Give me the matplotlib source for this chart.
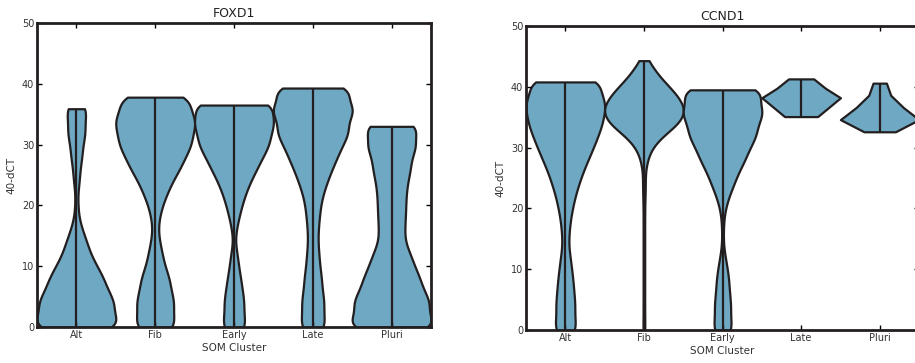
import numpy as np
import matplotlib
matplotlib.use('Agg')
import matplotlib.pyplot as plt


clusters = ['Alt', 'Fib', 'Early', 'Late', 'Pluri']

# FOXD1: 40-dCT levels and number of cells at each level, per SOM cluster
foxd1_levels = {
    'Alt': [0, 2, 4, 6, 8, 10, 12, 14, 16, 18, 20, 22, 24, 26, 28, 30, 32, 34, 35.9],
    'Fib': [0, 2, 4, 6, 8, 10, 12, 14, 16, 18, 20, 22, 24, 26, 28, 30, 32, 34, 36, 37.8],
    'Early': [0, 2, 4, 6, 8, 10, 12, 14, 16, 18, 20, 22, 24, 26, 28, 30, 32, 34, 35.5, 36.5],
    'Late': [0, 2, 4, 6, 8, 10, 12, 14, 16, 18, 20, 22, 24, 26, 28, 30, 32, 34, 36, 38.3, 39.3],
    'Pluri': [0, 2, 4, 6, 8, 10, 12, 14, 16, 18, 20, 22, 24, 26, 28, 30, 32, 33.0],
}
foxd1_counts = {
    'Alt': [127, 91, 102, 80, 71, 53, 36, 27, 15, 6, 4, 3, 8, 9, 15, 16, 25, 19, 30],
    'Fib': [61, 44, 53, 41, 39, 25, 19, 12, 7, 11, 19, 32, 46, 66, 80, 98, 99, 113, 83, 93],
    'Early': [36, 24, 28, 22, 18, 12, 9, 2, 6, 13, 21, 31, 44, 61, 76, 96, 96, 117, 5, 133],
    'Late': [37, 26, 31, 24, 23, 18, 16, 13, 14, 17, 20, 27, 38, 50, 64, 77, 97, 86, 124, 66, 83],
    'Pluri': [130, 86, 103, 80, 73, 58, 48, 33, 33, 35, 36, 37, 41, 49, 49, 71, 27, 71],
}

# CCND1
ccnd1_levels = {
    'Alt': [0, 2, 4, 6, 8, 10, 12, 14, 16, 18, 20, 22, 24, 26, 28, 30, 32, 34, 36, 38, 39.8, 40.8],
    'Fib': [0, 2, 4, 6, 8, 10, 12, 14, 16, 18, 20, 22, 24, 26, 28, 30, 32, 34, 36, 38, 40, 42, 43.3, 44.3],
    'Early': [0, 2, 4, 6, 8, 10, 12, 14, 16, 18, 20, 22, 24, 26, 28, 30, 32, 34, 36, 38, 39.5],
    'Late': [35.1, 36.65, 38.2, 39.75, 41.3],
    'Pluri': [32.6, 34.6, 36.6, 38.6, 40.6],
}
ccnd1_counts = {
    'Alt': [34, 23, 27, 23, 21, 17, 13, 8, 10, 13, 19, 26, 36, 47, 61, 75, 88, 100, 105, 111, 34, 102],
    'Fib': [3, 2, 2, 2, 2, 2, 2, 2, 2, 2, 2, 3, 4, 3, 9, 20, 50, 95, 112, 96, 68, 33, 10, 6],
    'Early': [29, 19, 23, 18, 17, 13, 7, 2, 2, 3, 7, 17, 30, 42, 60, 71, 92, 90, 118, 69, 110],
    'Late': [42, 71, 100, 62, 32],
    'Pluri': [40, 100, 60, 28, 17],
}
# the two small CCND1 groups were evaluated on a coarse grid
ccnd1_kde_points = {'Late': 5, 'Pluri': 5}

FILL = '#6fa8c2'
EDGE = '#231f20'


def fixed_bw(h):
    """bandwidth in data units -> factor for GaussianKDE"""
    return lambda kde: h / np.std(kde.dataset, ddof=1)


def draw_gene(ax, title, levels, counts, kde_points=None):
    kde_points = kde_points or {}
    for i, name in enumerate(clusters):
        data = np.repeat(levels[name], counts[name])
        pts = kde_points.get(name, 100)
        h = 0.4 if name in kde_points else 1.5
        parts = ax.violinplot([data], positions=[i], widths=1.0,
                              showextrema=True, points=pts,
                              bw_method=fixed_bw(h))
        for body in parts['bodies']:
            body.set_facecolor(FILL)
            body.set_edgecolor(EDGE)
            body.set_linewidth(1.6)
            body.set_alpha(1)
        parts['cmins'].set_visible(False)
        parts['cmaxes'].set_visible(False)
        parts['cbars'].set_color(EDGE)
        parts['cbars'].set_linewidth(1.6)

    ax.set_xlim(-0.5, 4.5)
    ax.set_ylim(0, 50)
    ax.set_xticks(range(len(clusters)))
    ax.set_xticklabels(clusters)
    ax.set_yticks([0, 10, 20, 30, 40, 50])
    ax.tick_params(direction='in', top=True, right=True, length=3.5,
                   width=1, labelsize=7, pad=2, labelcolor='#333333')
    for sp in ax.spines.values():
        sp.set_linewidth(2.0)
        sp.set_color(EDGE)
    ax.set_title(title, fontsize=9, pad=4, color='#222222')
    ax.set_xlabel('SOM Cluster', fontsize=7.5, labelpad=2, color='#333333')
    ax.set_ylabel('40-dCT', fontsize=7.5, labelpad=4, color='#333333')


fig = plt.figure(figsize=(9.15, 3.63), dpi=100)
ax1 = fig.add_axes([0.0404, 0.0992, 0.4306, 0.8375])
ax2 = fig.add_axes([0.5749, 0.0909, 0.4295, 0.8375])

draw_gene(ax1, 'FOXD1', foxd1_levels, foxd1_counts)
draw_gene(ax2, 'CCND1', ccnd1_levels, ccnd1_counts, ccnd1_kde_points)

fig.savefig('out.png', dpi=100)
